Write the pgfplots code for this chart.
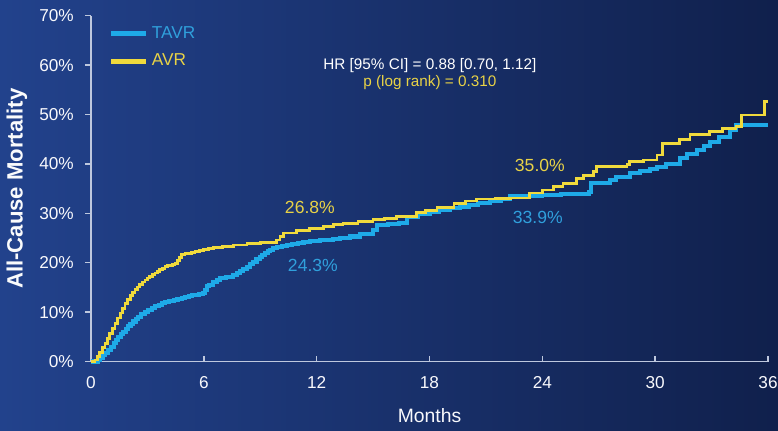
\documentclass[border=0pt]{standalone}
\usepackage{pgfplots}
\pgfplotsset{compat=1.18}
\usepackage{fontspec}
\setmainfont{Liberation Sans}
\definecolor{bgA}{RGB}{34,66,140}
\definecolor{bgB}{RGB}{16,32,76}
\definecolor{tavr}{RGB}{30,170,232}
\definecolor{avr}{RGB}{240,218,60}
\definecolor{tavrtxt}{RGB}{48,160,220}
\definecolor{avrtxt}{RGB}{232,210,70}
\definecolor{axcol}{RGB}{190,200,222}
\begin{document}
\begin{tikzpicture}
\useasboundingbox (0,0) rectangle (15.56cm,8.6cm);
\shade[left color=bgA, right color=bgB] (0,0) rectangle (15.56cm,8.6cm);
\begin{axis}[
  at={(1.82cm,1.37cm)}, anchor=south west,
  scale only axis, width=13.54cm, height=6.916cm,
  xmin=0, xmax=36, ymin=0, ymax=70,
  axis lines=left, axis line style={-, color=axcol, line width=0.8pt},
  xtick={0,6,12,18,24,30,36}, xticklabels={0,6,12,18,24,30,36},
  ytick={0,10,20,30,40,50,60,70},
  yticklabels={0\%,10\%,20\%,30\%,40\%,50\%,60\%,70\%},
  tick align=outside, major tick length=0.12cm,
  tick style={color=axcol, line width=0.8pt},
  every major x tick/.append style={yshift=0.12cm},
  ticklabel style={font=\fontsize{9.8}{11}\selectfont, color=white!90!axcol},
  xticklabel style={yshift=-0.05cm},
  yticklabel style={xshift=-0.1cm},
  xlabel={Months}, xlabel style={font=\fontsize{11}{13}\selectfont, color=white!90!axcol, yshift=-0.17cm},
  ylabel={\textbf{All-Cause Mortality}}, ylabel style={font=\fontsize{12.6}{14}\selectfont, color=white!92!axcol, yshift=0.0cm},
  clip=false,
  legend style={at={(0.018,0.99)}, anchor=north west, draw=none, fill=none,
    font=\fontsize{9.8}{11}\selectfont, row sep=0.12cm,
    /tikz/every even column/.append style={column sep=0.3cm}},
  legend cell align=left,
  legend image code/.code={\draw[#1, line width=2.6pt] (0cm,0cm) -- (0.7cm,0cm);},
]
\addplot[const plot, color=tavr, line width=2.3pt] coordinates {
(0,0) (0.39,0.3) (0.5,0.8) (0.62,1.3) (0.75,1.8) (0.92,2.3) (1.05,3.0) (1.2,3.8) (1.32,4.4) (1.45,5.0) (1.58,5.5) (1.7,6.0) (1.85,6.6) (1.98,7.1) (2.1,7.6) (2.25,8.1) (2.38,8.6) (2.51,9.1) (2.68,9.6) (2.85,10.0) (3.05,10.4) (3.23,10.8) (3.4,11.2) (3.6,11.5) (3.75,11.8) (3.93,12.1) (4.15,12.3) (4.4,12.5) (4.6,12.7) (4.82,12.8) (5.0,13.0) (5.2,13.2) (5.35,13.4) (5.53,13.5) (5.75,13.7) (5.97,13.8) (6.08,14.5) (6.15,15.2) (6.3,15.5) (6.5,16.0) (6.7,16.5) (6.86,16.9) (7.2,17.2) (7.57,17.5) (7.75,17.9) (7.9,18.3) (8.1,18.8) (8.28,19.2) (8.45,19.7) (8.6,20.2) (8.8,20.7) (8.98,21.2) (9.1,21.6) (9.25,21.9) (9.4,22.3) (9.52,22.6) (9.7,22.9) (9.9,23.1) (10.15,23.4) (10.4,23.6) (10.7,23.8) (11.0,24.0) (11.3,24.2) (11.64,24.3) (12.2,24.6) (12.88,24.8) (13.24,25.0) (13.77,25.3) (14.3,25.9) (15.0,26.6) (15.19,27.7) (15.8,27.8) (16.4,28.0) (16.8,29.3) (17.4,29.8) (18.0,30.3) (18.5,30.6) (19.1,31.0) (19.6,31.3) (20.1,31.7) (20.6,32.0) (21.2,32.4) (21.8,32.9) (22.3,33.4) (22.8,33.5) (23.4,33.6) (24.0,33.7) (25.0,34.0) (26.5,34.4) (26.6,36.1) (27.6,36.8) (27.9,37.4) (28.65,38.1) (29.2,38.6) (29.7,38.9) (30.1,39.4) (30.6,39.9) (31.3,41.2) (31.7,42.0) (32.2,42.8) (32.6,43.6) (32.9,44.5) (33.4,45.5) (34.0,46.9) (34.3,47.8) (36.0,47.8)
};
\addlegendentry{\textcolor{tavrtxt}{TAVR}}
\addplot[const plot, color=avr, line width=1.6pt] coordinates {
(0,0) (0.21,0.3) (0.33,1.0) (0.45,1.8) (0.6,2.8) (0.74,3.7) (0.87,4.7) (1.0,5.7) (1.14,6.7) (1.28,7.7) (1.42,8.8) (1.55,9.8) (1.68,10.8) (1.81,11.8) (1.95,12.6) (2.1,13.3) (2.22,13.9) (2.34,14.5) (2.47,15.1) (2.6,15.6) (2.73,16.1) (2.87,16.5) (3.0,16.9) (3.1,17.2) (3.25,17.6) (3.40,17.9) (3.52,18.3) (3.65,18.6) (3.8,18.9) (3.93,19.2) (4.07,19.4) (4.2,19.5) (4.33,19.7) (4.47,19.9) (4.6,20.5) (4.7,21.1) (4.82,21.6) (5.0,21.8) (5.2,21.9) (5.35,22.0) (5.53,22.2) (5.75,22.5) (6.0,22.7) (6.25,22.9) (6.5,23.1) (7.0,23.3) (7.57,23.6) (8.3,23.9) (9.0,24.1) (9.87,24.6) (10.05,25.3) (10.22,26.0) (10.93,26.6) (11.6,26.9) (12.35,27.3) (12.9,27.7) (13.4,28.0) (14.2,28.4) (15.0,28.8) (15.6,29.0) (16.25,29.3) (17.3,30.1) (17.8,30.6) (18.4,31.2) (19.3,32.0) (19.9,32.5) (20.5,32.9) (21.5,33.0) (22.3,33.1) (23.3,34.1) (24.0,34.7) (24.6,35.4) (25.1,36.1) (25.8,37.1) (26.2,37.7) (26.7,38.5) (26.9,39.5) (28.5,39.8) (28.65,40.5) (29.4,40.8) (30.1,41.8) (30.4,44.2) (31.3,44.9) (31.85,45.9) (32.9,46.6) (33.6,47.2) (34.3,47.6) (34.6,49.9) (35.8,52.6) (36.0,52.6)
};
\addlegendentry{\textcolor{avrtxt}{AVR}}
\node[font=\fontsize{10}{12}\selectfont, text=avrtxt] at (axis cs:11.64,31.1) {26.8\%};
\node[font=\fontsize{10}{12}\selectfont, text=tavrtxt] at (axis cs:11.8,19.5) {24.3\%};
\node[font=\fontsize{10}{12}\selectfont, text=avrtxt] at (axis cs:23.87,39.6) {35.0\%};
\node[font=\fontsize{10}{12}\selectfont, text=tavrtxt] at (axis cs:23.76,29.1) {33.9\%};
\node[font=\fontsize{8.7}{10}\selectfont, text=white] at (axis cs:18.02,59.9) {HR [95\% CI] = 0.88 [0.70, 1.12]};
\node[font=\fontsize{8.7}{10}\selectfont, text=avrtxt] at (axis cs:18.02,56.4) {p (log rank) = 0.310};
\end{axis}
\end{tikzpicture}
\end{document}
